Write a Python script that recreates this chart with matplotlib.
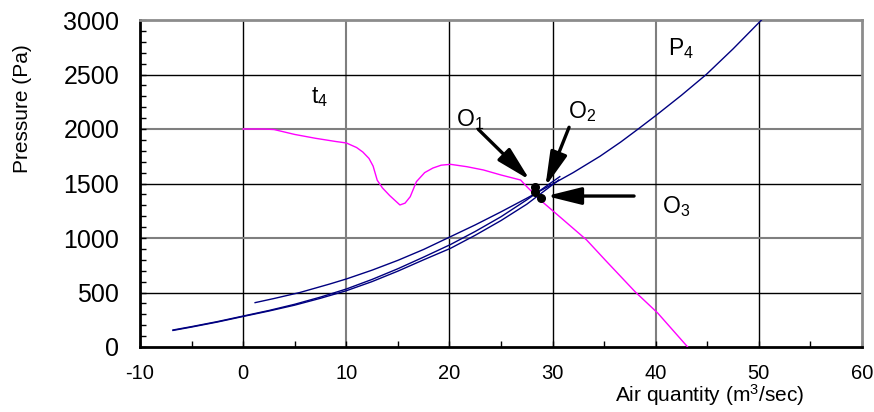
import matplotlib
matplotlib.use("Agg")
import matplotlib.pyplot as plt
from matplotlib.ticker import MultipleLocator

plt.rcParams['font.family'] = ['Liberation Sans', 'DejaVu Sans']
plt.rcParams['mathtext.fontset'] = 'custom'
plt.rcParams['mathtext.rm'] = 'Liberation Sans'
plt.rcParams['mathtext.it'] = 'Liberation Sans:italic'
plt.rcParams['axes.unicode_minus'] = False

# fan curve t4
fan_q = [0, 2, 3, 5, 7, 9, 10, 11, 11.6, 12.2, 12.6, 13, 13.5, 14.2, 15.2, 15.7,
         16.2, 16.8, 17.6, 18.4, 19.2, 20.1, 21.7, 23.3, 25, 26.9, 27.5, 28.8,
         31, 33.3, 35.1, 38, 40.2, 43.1]
fan_p = [2000, 2000, 1995, 1950, 1915, 1885, 1872, 1830, 1789, 1730, 1660, 1530,
         1460, 1390, 1303, 1320, 1379, 1517, 1600, 1642, 1668, 1676, 1654, 1624,
         1578, 1532, 1471, 1349, 1170, 982, 798, 507, 311, 0]

# system resistance curves
sys1_q = [-6.8, -5, -2.5, 0, 2.5, 5, 7.5, 10, 12.5, 15, 17.5, 20.1, 22.5, 25, 27.5, 30.7]
sys1_p = [156, 187, 233, 284, 335, 392, 458, 532, 620, 718, 825, 940, 1060, 1195, 1350, 1563]
sys2_q = [-6.8, -5, -2.5, 0, 2.5, 5, 7.5, 10, 12.5, 15, 17.5, 20.1, 22.5, 25, 27.5, 30.6]
sys2_p = [152, 183, 229, 280, 330, 384, 447, 516, 600, 696, 800, 905, 1025, 1160, 1310, 1532]
p4_q = [1.16, 3, 5.5, 8.4, 10, 12.5, 15, 17.5, 20.1, 22.5, 25, 27.5, 30.1, 32, 34.6,
        36.6, 38.3, 40.1, 42.5, 44.9, 47.5, 50.1, 51]
p4_p = [407, 445, 500, 578, 624, 705, 795, 895, 1012, 1120, 1240, 1365, 1500, 1600, 1750,
        1880, 2000, 2130, 2310, 2500, 2735, 2985, 3070]

# operating points
dot_q = [28.25, 28.25, 28.85]
dot_p = [1470, 1425, 1365]

# arrows: (tail, head)
arrows = [((22.8, 1997), (27.8, 1532)),
          ((31.6, 2016), (29.3, 1471)),
          ((37.9, 1385), (29.4, 1385))]

labels = [(6.6, 2238, 't$_4$'), (20.6, 2028, 'O$_1$'), (31.5, 2098, 'O$_2$'),
          (40.6, 1226, 'O$_3$'), (41.2, 2679, 'P$_4$')]

fig = plt.figure(figsize=(8.74, 4.12), dpi=100)
ax = fig.add_axes([140 / 874, 1 - 347 / 412, 722 / 874, 327 / 412])

# grid lines (some show grey in the original)
for x in range(0, 60, 10):
    if x in (10, 40):
        ax.axvline(x, color='#7f7f7f', lw=1.5, zorder=1)
    else:
        ax.axvline(x, color='black', lw=1.0, zorder=1)
for y in range(500, 3000, 500):
    if y in (1000, 2000):
        ax.axhline(y, color='#7f7f7f', lw=1.5, zorder=1)
    else:
        ax.axhline(y, color='black', lw=1.0, zorder=1)

ax.plot(fan_q, fan_p, color='#ff00ff', lw=1.0, zorder=3)
ax.plot(sys1_q, sys1_p, color='#000080', lw=1.0, zorder=3)
ax.plot(sys2_q, sys2_p, color='#000080', lw=1.0, zorder=3)
ax.plot(p4_q, p4_p, color='#000080', lw=1.0, zorder=3)
ax.plot(dot_q, dot_p, 'o', color='black', ms=5.5, zorder=5)

for tail, head in arrows:
    ax.annotate('', xy=head, xytext=tail,
                arrowprops=dict(arrowstyle='-|>,head_length=1.05,head_width=0.26',
                                lw=2.4, color='black', mutation_scale=20,
                                shrinkA=0, shrinkB=0), zorder=6)

for x, y, s in labels:
    ax.text(x, y, s, fontsize=16.5, ha='left', va='baseline', zorder=6)

ax.set_xlim(-10, 60)
ax.set_ylim(0, 3000)
ax.xaxis.set_major_locator(MultipleLocator(10))
ax.xaxis.set_minor_locator(MultipleLocator(5))
ax.yaxis.set_major_locator(MultipleLocator(500))
ax.yaxis.set_minor_locator(MultipleLocator(100))
ax.tick_params(axis='both', which='both', direction='in', length=4.5, width=1,
               top=False, right=False)
ax.tick_params(axis='y', labelsize=18, pad=15)
ax.tick_params(axis='x', labelsize=14.5, pad=12)

for side in ('left', 'bottom'):
    ax.spines[side].set_linewidth(2)
    ax.spines[side].set_color('black')
for side in ('top', 'right'):
    ax.spines[side].set_linewidth(2)
    ax.spines[side].set_color('#8c8c8c')

ax.text(0.789, -55 / 327, 'Air quantity (m$^3$/sec)', transform=ax.transAxes,
        fontsize=15, ha='center', va='baseline')
ax.text(-108 / 722, 0.73, 'Pressure (Pa)', transform=ax.transAxes,
        fontsize=15, ha='right', va='center', rotation=90)

fig.savefig('out.png', dpi=100)
